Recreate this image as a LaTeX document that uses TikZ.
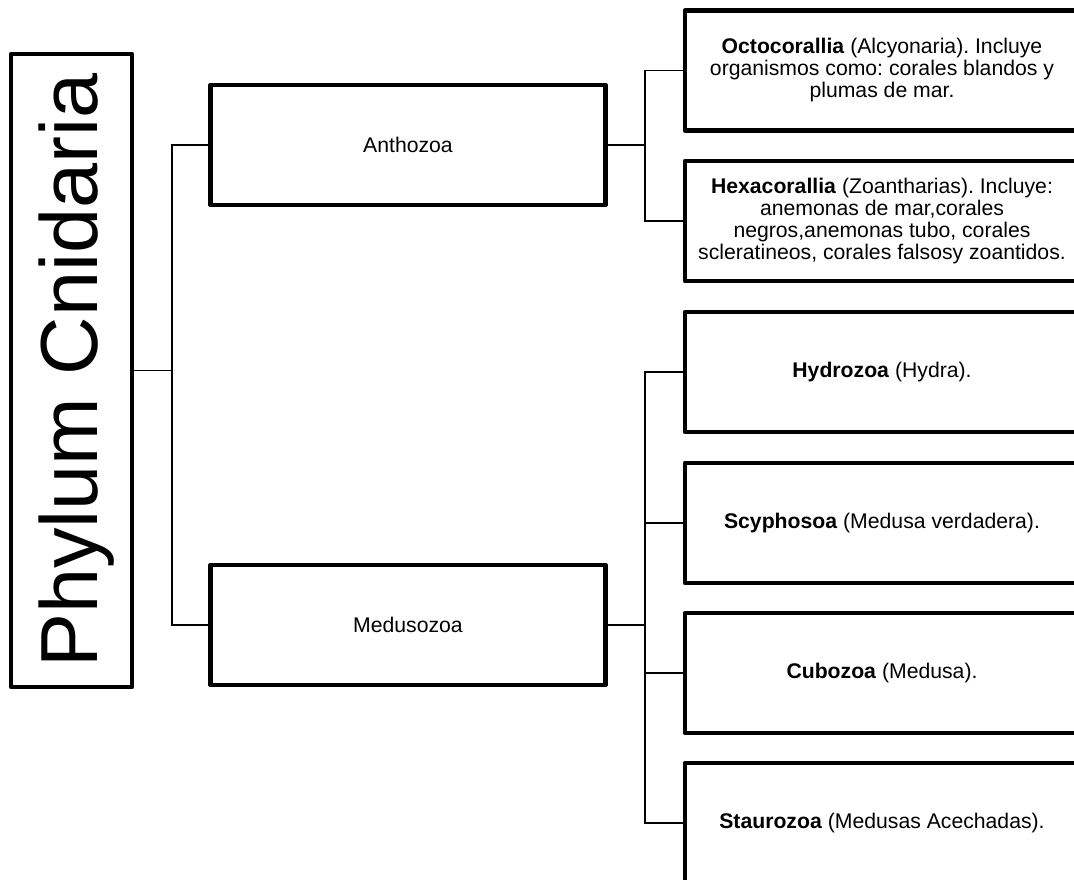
\documentclass[tikz,border=0pt]{standalone}
\usepackage{fontspec}
\setmainfont{Liberation Sans}
\frenchspacing
\begin{document}
\begin{tikzpicture}[x=1pt,y=-1pt,
  box/.style={draw, line width=4.7pt, rectangle, inner sep=0pt, align=center,
    line join=round, font=\fontsize{21.2}{22}\selectfont},
  midbox/.style={box, minimum width=395pt, minimum height=120pt},
  leafbox/.style={box, minimum width=394pt, minimum height=120pt},
  link/.style={draw, line width=1.2pt}]
\clip (0,0) rectangle (1074,879);
\fill[white] (0,0) rectangle (1074,879);
% root
\node[box, minimum width=121pt, minimum height=633pt] (phylum) at (71.5,370.5) {};
\node[rotate=90, anchor=base west, inner sep=0pt, font=\fontsize{81}{81}\selectfont] (phylumtext) at (97,668) {Phylum Cnidaria};
% second level
\node[midbox] (anth) at (408,145) {Anthozoa};
\node[midbox] (medu) at (408,625) {Medusozoa};
% leaves
\node[leafbox] (octo) at (882,70.5) {\textbf{Octocorallia} (Alcyonaria). Incluye\\organismos como: corales blandos y\\plumas de mar.};
\node[leafbox] (hexa) at (882,221) {\textbf{Hexacorallia} (Zoantharias). Incluye:\\anemonas de mar,corales\\negros,anemonas tubo, corales\\scleratineos, corales falsosy zoantidos.};
\node[leafbox] (hydro) at (882,372) {\textbf{Hydrozoa} (Hydra).};
\node[leafbox] (scypho) at (882,523) {\textbf{Scyphosoa} (Medusa verdadera).};
\node[leafbox] (cubo) at (882,673) {\textbf{Cubozoa} (Medusa).};
\node[leafbox] (stauro) at (882,823) {\textbf{Staurozoa} (Medusas Acechadas).};
% connectors
\coordinate (t1) at (172,0);
\coordinate (t2) at (645,0);
\draw[link] (phylum.east) -- (phylum.east -| t1);
\draw[link] (anth.west) -- (anth.west -| t1) -- (medu.west -| t1) -- (medu.west);
\draw[link] (anth.east) -- (anth.east -| t2);
\draw[link] (octo.west) -- (octo.west -| t2) -- (hexa.west -| t2) -- (hexa.west);
\draw[link] (medu.east) -- (medu.east -| t2);
\draw[link] (hydro.west) -- (hydro.west -| t2) -- (stauro.west -| t2) -- (stauro.west);
\draw[link] (scypho.west) -- (scypho.west -| t2);
\draw[link] (cubo.west) -- (cubo.west -| t2);
\end{tikzpicture}
\end{document}
